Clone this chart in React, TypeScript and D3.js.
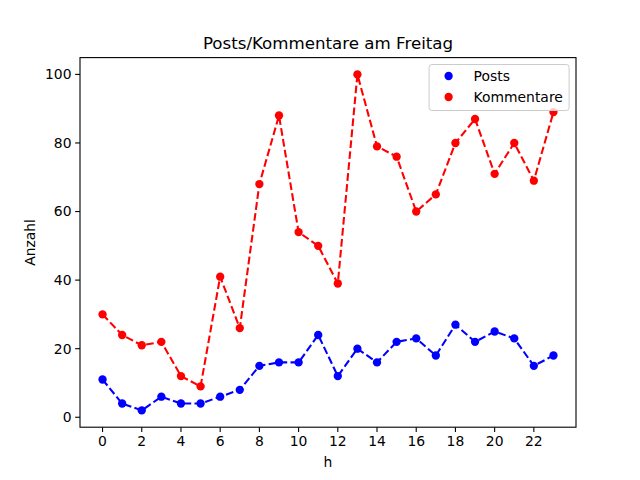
import * as d3 from "d3";

const hours = d3.range(0, 24);
const posts = [11, 4, 2, 6, 4, 4, 6, 8, 15, 16, 16, 24, 12, 20, 16, 22, 23, 18, 27, 22, 25, 23, 15, 18];
const kommentare = [30, 24, 21, 22, 12, 9, 41, 26, 68, 88, 54, 50, 39, 100, 79, 76, 60, 65, 80, 87, 71, 80, 69, 89];
const xTicks = [0, 2, 4, 6, 8, 10, 12, 14, 16, 18, 20, 22];
const yTicks = [0, 20, 40, 60, 80, 100];

const W = 640;
const H = 480;
const margin = { left: 80, right: 64, top: 57.6, bottom: 52.8 };
const font = "DejaVu Sans, sans-serif";

const series = [
  { name: "Posts", values: posts, color: "#0000ff" },
  { name: "Kommentare", values: kommentare, color: "#ff0000" },
];

export default function App() {
  const x = d3.scaleLinear().domain([-1.15, 24.15]).range([margin.left, W - margin.right]);
  const y = d3.scaleLinear().domain([-2.9, 104.9]).range([H - margin.bottom, margin.top]);

  const line = d3
    .line<number>()
    .x((_, i) => x(hours[i]))
    .y((d) => y(d));

  const x0 = margin.left;
  const x1 = W - margin.right;
  const y0 = H - margin.bottom;
  const y1 = margin.top;

  // legend box (upper right)
  const lw = 140;
  const lh = 46;
  const lx = x1 - 6.9 - lw;
  const ly = y1 + 6.9;

  return (
    <svg width={W} height={H} style={{ position: "absolute", left: 0, top: 0 }} fontFamily={font}>
      <rect width={W} height={H} fill="#fff" />
      {series.map((s) => (
        <g key={s.name}>
          <path
            d={line(s.values) ?? ""}
            fill="none"
            stroke={s.color}
            strokeWidth={2.08}
            strokeDasharray="7.7,3.3"
          />
          {s.values.map((v, i) => (
            <circle key={i} cx={x(hours[i])} cy={y(v)} r={4.17} fill={s.color} />
          ))}
        </g>
      ))}

      {/* axes frame */}
      <rect x={x0} y={y1} width={x1 - x0} height={y0 - y1} fill="none" stroke="#000" strokeWidth={1.1} />

      {xTicks.map((t) => (
        <g key={t} transform={`translate(${x(t)},${y0})`}>
          <line y2={4.86} stroke="#000" strokeWidth={1.1} />
          <text y={18.5} textAnchor="middle" fontSize={13.9}>
            {t}
          </text>
        </g>
      ))}
      {yTicks.map((t) => (
        <g key={t} transform={`translate(${x0},${y(t)})`}>
          <line x2={-4.86} stroke="#000" strokeWidth={1.1} />
          <text x={-8.5} dy="0.35em" textAnchor="end" fontSize={13.9}>
            {t}
          </text>
        </g>
      ))}

      <text x={(x0 + x1) / 2} y={467} textAnchor="middle" fontSize={13.9}>
        h
      </text>
      <text transform={`translate(35,${(y0 + y1) / 2}) rotate(-90)`} textAnchor="middle" fontSize={13.9}>
        Anzahl
      </text>
      <text x={(x0 + x1) / 2} y={49} textAnchor="middle" fontSize={16.67}>
        Posts/Kommentare am Freitag
      </text>

      <g transform={`translate(${lx},${ly})`}>
        <rect width={lw} height={lh} rx={2.8} fill="#fff" fillOpacity={0.8} stroke="#cccccc" strokeWidth={1} />
        {series.map((s, i) => (
          <g key={s.name} transform={`translate(0,${11.5 + i * 21})`}>
            <circle cx={19.5} cy={0} r={4.17} fill={s.color} />
            <text x={44.5} dy="0.35em" fontSize={13.9}>
              {s.name}
            </text>
          </g>
        ))}
      </g>
    </svg>
  );
}
